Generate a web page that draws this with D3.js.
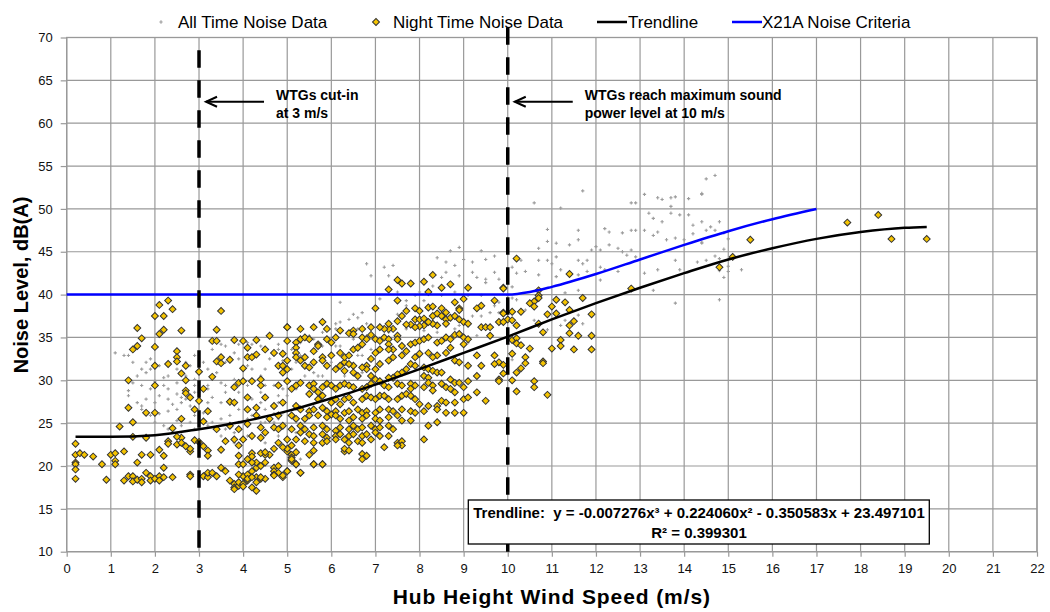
<!doctype html><html><head><meta charset="utf-8"></head><body style="margin:0;background:#fff"><script src='https://d3js.org/d3.v7.min.js'></script>
<script>
// Dimensions
const xSize = 1050, ySize = 612;
const plotL = 66.7, plotR = 1037, plotT = 37.5, plotB = 551.7;
const font = "'Liberation Sans', Arial, sans-serif";

// Ticks
const xTicks = [0,1,2,3,4,5,6,7,8,9,10,11,12,13,14,15,16,17,18,19,20,21,22];
const yTicks = [10,15,20,25,30,35,40,45,50,55,60,65,70];
const legendNames = ["All Time Noise Data", "Night Time Noise Data", "Trendline", "X21A Noise Criteria"];

// All time noise data (wind speed m/s, dB(A))
const allTime = [
 [1.1,33.2],[1.3,32.9],[1.4,32.9],[1.8,30.9],[1.9,31.3],[1.7,29.4],[1.9,29.0],[2.1,31.7],[2.2,29.4],[2.3,29.0],
 [2.1,28.2],[2.3,27.8],[2.0,27.4],[1.8,27.8],[1.7,26.6],[2.1,26.1],[2.3,26.4],[2.5,26.6],[2.6,27.4],[2.7,27.8],
 [2.8,27.0],[2.9,28.6],[2.9,30.1],[2.8,31.7],[2.7,32.1],[2.5,29.7],[2.3,30.5],[2.2,30.3],[2.0,29.9],[3.2,27.4],
 [3.3,28.0],[3.5,27.4],[3.6,28.6],[3.2,29.4],[3.4,30.9],[3.6,32.1],[3.6,34.0],[3.8,33.2],[3.9,32.5],[4.1,31.7],
 [4.2,31.3],[4.4,30.5],[4.5,29.4],[4.5,31.3],[4.6,32.5],[4.7,32.9],[4.4,34.0],[4.2,34.2],[4.1,34.4],[3.9,34.2],
 [4.5,33.6],[4.8,34.2],[4.8,33.6],[4.9,32.3],[4.1,28.2],[4.2,27.8],[4.4,27.4],[4.5,26.6],[4.7,26.1],[3.9,26.6],
 [3.7,25.9],[3.5,25.5],[3.3,25.1],[3.2,24.7],[3.0,24.3],[2.9,24.3],[2.8,25.1],[2.6,24.7],[2.5,25.3],[2.3,24.3],
 [2.2,24.7],[3.6,24.3],[3.8,23.9],[3.9,25.1],[4.1,25.5],[4.2,25.9],[4.4,25.1],[4.5,25.1],[4.7,25.1],[4.8,25.5],
 [4.9,26.2],[2.9,25.9],[3.1,26.2],[2.6,28.0],[2.5,28.4],[2.4,27.2],[2.0,25.1],[1.9,25.9],[1.7,27.0],[1.6,27.4],
 [1.4,28.2],[1.4,28.8],[1.5,29.7],[1.6,30.5],[1.7,31.3],[1.8,32.1],[1.9,32.5],[1.5,32.1],[2.5,31.3],[2.7,30.5],
 [2.9,29.4],[3.0,28.6],[3.2,29.0],[3.5,29.7],[3.8,30.1],[3.6,29.4],[3.3,30.5],[3.2,31.3],[3.1,32.1],[2.9,32.9],
 [3.3,33.6],[3.5,34.2],[4.1,29.4],[3.9,28.6],[3.8,29.0],[4.4,28.6],[4.7,29.4],[4.8,28.2],[4.8,27.4],[4.9,29.0],
 [3.8,22.7],[4.1,23.5],[4.5,22.7],[4.8,23.5],[3.5,23.5],
 [6.8,43.6],[6.9,42.2],[7.2,43.2],[7.3,42.2],[7.4,43.4],[8.4,44.3],[8.6,43.8],[8.7,45.1],[8.8,43.4],[8.9,45.5],
 [9.0,44.1],[9.2,43.8],[9.2,42.6],[9.3,42.0],[9.4,45.1],[9.5,44.1],[9.5,41.8],[9.7,44.5],[9.7,42.6],[9.8,41.8],
 [9.5,41.4],[8.9,42.2],[8.6,42.6],[8.5,42.0],[8.3,41.0],[8.0,40.3],[7.9,39.9],[7.7,39.3],[7.5,40.3],[7.1,39.5],
 [7.0,38.7],[6.7,37.9],[6.6,37.3],[6.5,37.7],[6.2,39.1],[6.2,36.8],[6.1,36.0],[5.8,35.6],[5.5,35.2],[5.3,34.4],
 [5.1,33.6],[5.2,32.1],[5.4,30.5],[5.2,29.0],[5.0,28.2],[5.6,30.9],[6.0,32.1],[6.2,34.0],[6.5,34.8],[6.8,35.2],
 [7.1,36.4],[7.5,37.7],[7.7,38.7],[8.1,39.3],[8.5,39.9],[8.8,40.3],[9.1,39.9],[9.4,39.9],[9.7,38.7],[9.8,39.1],
 [10.0,39.9],[9.8,37.9],[9.2,37.5],[8.9,36.4],[9.4,37.5],[9.6,37.9],[9.3,35.2],[9.1,34.4],[5.6,29.7],[5.8,30.5],
 [5.5,28.6],[5.3,20.8],[5.2,23.9],[5.2,26.6],[6.6,32.9],[6.9,33.6],[6.1,36.6],[6.4,37.1],[6.6,36.0],[6.8,36.6],
 [5.6,34.8],[5.8,34.0],[6.1,34.0],[5.3,32.9],[5.1,31.3],[5.7,30.5],[6.3,30.5],[6.7,32.9],[7.3,35.6],[7.7,36.0],
 [8.1,35.8],[8.4,35.6],[8.8,36.0],[9.1,36.4],[6.7,30.9],[5.9,25.9],[5.6,24.3],
 [11.7,52.1],[10.6,50.7],[11.2,50.1],[12.8,50.7],[12.9,50.7],[13.1,51.7],[13.4,51.3],[13.5,51.1],[13.7,51.3],[13.8,51.4],
 [13.7,50.3],[14.1,51.2],[14.4,51.7],[14.5,53.5],[14.7,53.9],[13.2,49.5],[13.3,48.9],[13.5,48.5],[13.7,49.5],[13.9,49.3],
 [14.1,49.3],[14.2,48.1],[14.4,48.5],[14.6,47.9],[14.8,48.5],[10.9,47.6],[11.6,47.5],[12.2,47.7],[12.3,47.3],[12.6,47.2],
 [12.8,47.5],[12.9,47.5],[13.1,47.5],[13.3,46.9],[13.4,47.3],[13.6,46.4],[13.8,46.6],[14.2,47.1],[14.0,46.4],[14.4,46.0],
 [14.7,47.5],[14.9,45.3],[10.7,45.4],[10.9,46.2],[11.1,46.0],[11.4,45.8],[11.6,46.4],[11.9,45.2],[12.0,45.6],[12.1,45.2],
 [12.3,45.8],[12.5,45.4],[12.6,45.0],[12.7,44.6],[12.8,45.2],[12.9,44.4],[10.7,44.0],[10.9,44.0],[11.0,43.6],[11.1,44.4],
 [11.6,44.0],[11.7,43.6],[11.8,44.0],[12.1,43.2],[12.2,42.9],[12.5,42.7],[10.3,44.0],[10.1,43.2],[10.4,42.7],[10.7,42.3],
 [11.1,42.1],[11.2,42.9],[11.6,42.3],[11.8,42.7],[12.1,41.7],[11.6,40.5],[11.3,40.2],[13.1,42.5],[13.4,42.9],[13.8,44.0],
 [13.9,42.9],[14.3,43.8],[14.5,44.0],[14.8,44.2],[15.0,42.7],[13.3,40.5],[13.8,39.0],[14.8,39.4],[10.2,42.5],[10.1,40.9],
 [10.1,39.6],[10.2,39.4],[10.4,38.2],[10.6,37.0],[11.3,37.0],[11.6,37.6],[11.2,36.4],[10.9,35.9],[11.7,36.6],[10.1,32.4],
 [14.4,51.8],[14.5,47.5],[14.9,47.2],[15.0,46.5],[14.4,46.1],[14.7,44.5],[15.0,43.3],[14.8,42.8],[14.9,42.0],[15.3,42.9]
];

// Night time noise data (wind speed m/s, dB(A))
const nightTime = [
 [0.2,22.6],[0.2,21.3],[0.3,21.5],[0.4,21.3],[0.2,20.4],[0.2,20.2],[0.2,19.6],[0.2,18.5],[0.6,21.1],[0.8,20.2],
 [0.9,18.4],[1.0,21.3],[1.1,21.5],[1.1,20.6],[1.1,20.2],[1.3,21.7],[1.3,18.3],[1.4,18.8],[1.5,18.8],[1.5,18.2],
 [1.6,18.4],[1.6,20.4],[1.7,21.3],[1.7,18.5],[1.7,18.1],[1.8,19.2],[1.9,21.3],[1.9,18.8],[1.9,18.3],[2.0,18.5],
 [2.1,18.8],[2.1,18.3],[2.2,18.7],[2.2,19.8],[2.1,21.9],[2.2,21.2],[2.4,18.7],[2.8,19.0],[2.8,18.8],[2.8,21.7],
 [1.2,24.6],[1.4,30.0],[1.4,26.8],[1.5,25.1],[1.5,23.4],[1.5,33.6],[1.6,34.0],[1.7,34.9],[1.6,36.1],[1.8,26.2],
 [1.8,23.3],[2.0,37.5],[2.1,38.8],[2.2,37.5],[2.1,35.4],[2.2,35.9],[2.3,39.3],[2.4,38.3],[2.0,33.9],[2.0,31.7],
 [2.0,29.4],[2.0,26.2],[2.3,22.9],[2.3,22.6],[2.4,24.4],[2.6,35.8],[2.5,33.4],[2.5,32.7],[2.5,32.2],[2.3,31.9],
 [2.6,30.8],[2.7,31.7],[2.7,30.0],[2.7,28.8],[2.7,28.5],[2.6,25.5],[2.6,23.3],[2.5,23.4],[2.5,22.5],[2.7,22.3],
 [2.6,22.7],[2.8,22.0],[2.9,26.6],[2.9,23.0],[3.0,22.8],[2.8,28.0],
 [3.0,31.0],[3.0,27.6],[3.1,29.0],[3.2,26.4],[3.1,25.2],[3.2,21.8],[3.2,21.2],[3.1,22.3],[3.1,18.8],[3.2,18.7],
 [3.2,19.2],[3.3,19.2],[3.4,18.8],[3.5,19.8],[3.6,19.4],[3.7,18.3],[3.5,38.1],[3.4,35.9],[3.3,34.6],[3.4,34.6],
 [3.4,32.2],[3.5,32.7],[3.5,32.0],[3.7,32.4],[3.3,30.4],[3.4,24.3],[3.5,21.9],[3.6,22.9],[3.7,24.7],[3.7,27.5],
 [3.8,27.4],[3.8,29.2],[3.9,29.7],[4.0,29.9],[4.0,31.4],[3.8,34.7],[4.0,34.6],[4.1,33.8],[4.1,32.7],[4.2,32.7],
 [4.3,33.0],[4.3,34.7],[4.1,28.0],[4.3,26.8],[4.1,26.6],[4.2,29.9],[4.4,29.4],[3.8,23.1],[3.9,22.4],[4.0,23.1],
 [3.9,21.2],[3.8,17.9],[3.8,17.5],[3.8,17.3],[3.9,17.7],[3.9,18.1],[4.0,17.9],[4.1,18.3],[4.0,18.8],[4.1,19.0],
 [4.2,19.4],[4.3,19.8],[4.3,20.4],[4.4,20.0],[4.3,18.7],[4.3,18.1],[4.4,18.5],[4.5,18.5],[4.2,17.5],[4.3,17.1],
 [3.9,19.0],[3.9,20.2],[4.0,20.2],[4.6,21.3],[4.5,21.3],[4.4,21.5],[4.2,21.5],[4.2,21.1],[4.7,19.8],[4.7,19.4],
 [4.8,20.0],[4.8,19.2],[4.7,19.0],[4.9,18.7],[5.0,19.4],[5.0,21.7],[5.1,21.3],[5.1,21.0],[5.1,20.6],[5.2,20.2],
 [5.3,19.2],[5.5,21.3],[5.6,20.2],[5.8,20.2],[6.3,21.7],[4.1,20.8],[4.2,20.4],[4.5,20.4],[4.5,21.6],[4.7,22.0],
 [4.8,22.7],[5.0,22.0],[4.4,23.3],[4.5,23.9],[4.7,24.5],[4.8,24.3],[4.6,25.5],[4.8,25.9],[4.9,27.4],[4.8,29.4],
 [4.9,30.9],[4.8,31.7],[4.7,33.2],[4.9,33.1],[5.0,34.6],[4.6,35.2],[5.0,36.2],[4.5,33.6],[4.4,30.1],[4.5,28.0],
 [4.7,27.0],[4.3,25.9],[4.1,24.9],[3.9,24.3],[4.4,24.5],[4.2,23.5],[5.0,31.3],[4.7,18.9],[4.0,17.6],[4.1,18.5],
 [4.2,18.7],[4.4,18.7],
 [7.5,41.7],[7.6,41.3],[7.8,41.3],[8.1,41.5],[8.3,42.3],[8.5,40.8],[8.7,41.2],[8.2,40.3],[7.3,40.6],[7.5,39.3],
 [7.0,38.4],[9.1,40.8],[9.9,40.8],[9.0,39.5],[9.7,39.3],[9.4,38.7],[9.3,38.4],[7.9,38.4],[8.0,38.1],[8.2,38.5],
 [8.3,38.6],[8.5,38.4],[8.6,37.9],[8.8,39.1],[8.9,38.4],[8.9,38.2],[7.7,38.1],[7.6,37.5],[7.9,37.1],[8.0,37.1],
 [8.1,37.2],[8.3,37.5],[8.4,37.8],[8.5,37.5],[8.6,37.1],[8.7,37.3],[8.8,37.5],[8.9,37.1],[9.0,36.8],[9.1,36.6],
 [8.6,36.6],[8.4,36.4],[8.3,36.6],[8.2,36.8],[8.1,36.4],[8.0,36.3],[7.9,36.2],[7.8,36.5],[7.7,36.5],[7.5,36.9],
 [7.4,36.0],[7.3,36.0],[7.2,36.0],[7.3,36.6],[7.1,36.2],[6.9,36.2],[6.7,36.0],[6.5,35.8],[6.4,35.5],[6.5,35.4],
 [6.2,35.8],[6.1,35.0],[5.9,36.0],[5.8,36.8],[5.6,36.2],[5.3,36.0],[5.0,36.2],[9.4,36.2],[9.5,36.2],[9.6,36.2],
 [9.8,36.8],[10.0,37.1],[9.6,35.2],[9.9,37.9],
 [5.2,34.4],[5.2,33.8],[5.2,33.2],[5.2,32.7],[5.0,32.3],[4.9,31.7],[5.3,34.8],[5.4,35.0],[5.5,34.8],[5.7,34.2],
 [5.7,34.0],[5.6,33.4],[5.4,32.7],[5.3,32.3],[5.4,31.7],[5.5,31.5],[5.6,32.1],[5.8,32.7],[5.8,32.3],[5.9,34.8],
 [6.0,34.4],[6.0,32.9],[5.9,31.7],[6.1,31.3],[6.2,31.7],[6.3,32.1],[6.3,32.7],[6.2,33.2],[6.4,32.9],[6.5,33.6],
 [6.6,33.8],[6.7,34.2],[6.7,35.0],[6.8,34.8],[6.9,35.3],[7.0,34.8],[7.1,34.6],[7.2,35.0],[7.3,34.8],[7.3,34.2],
 [7.5,35.2],[7.5,34.8],[7.6,34.0],[7.4,33.6],[7.3,33.6],[7.1,33.6],[7.0,33.2],[6.9,32.5],[6.8,31.7],[6.8,31.3],
 [6.7,31.5],[6.5,31.7],[6.4,31.9],[6.3,31.1],[6.5,30.9],[6.6,30.5],[6.9,30.5],[7.0,31.3],[7.1,31.9],[7.3,32.3],
 [7.4,32.7],[7.6,32.9],[7.7,33.4],[7.8,34.2],[7.9,34.4],[8.0,34.6],[8.1,34.8],[8.2,35.0],[8.4,34.4],[8.5,34.6],
 [8.6,35.0],[8.7,34.8],[8.8,35.3],[8.9,35.4],[9.0,35.0],[9.1,34.8],[9.0,34.2],[8.7,33.8],[8.6,33.2],[8.4,32.9],
 [8.3,32.7],[8.2,33.2],[8.0,33.1],[7.9,32.7],[7.8,31.9],[7.9,31.7],[8.1,31.5],[8.2,31.3],[8.3,31.1],[8.4,30.9],
 [8.5,30.9],[8.1,30.5],[8.2,30.3],[7.7,31.3],[7.6,30.9],[7.5,30.7],[7.4,30.3],[7.3,30.3],[8.8,32.3],[8.9,32.1],
 [9.1,31.7],[9.3,32.9],[9.7,32.9],[9.8,32.1],[9.4,31.7],[9.7,31.9],[9.8,30.1],[9.1,29.9],[8.7,30.1],[8.8,29.7],
 [8.9,29.7],[9.3,30.5],
 [5.0,29.9],[5.1,29.0],[5.2,29.4],[5.3,29.7],[5.5,29.4],[5.6,29.6],[5.6,29.0],[5.7,28.6],[5.8,29.2],[5.9,29.6],
 [6.0,29.4],[6.1,29.0],[6.2,29.4],[6.3,29.6],[6.4,29.4],[6.5,29.2],[6.7,29.0],[6.8,29.2],[6.9,29.6],[7.0,30.1],
 [7.1,29.9],[7.2,29.4],[7.3,29.2],[7.5,29.6],[7.6,29.4],[7.8,29.6],[7.8,29.0],[7.9,29.4],[8.1,29.2],[8.2,29.7],
 [8.3,29.4],[8.3,28.8],[8.5,29.6],[8.6,29.2],[8.7,29.0],[8.8,28.6],[9.0,29.2],[5.5,28.4],[5.7,27.8],[5.8,28.2],
 [6.0,27.4],[6.1,27.8],[6.2,27.2],[6.3,27.8],[6.4,28.0],[6.5,27.4],[6.7,27.8],[6.8,28.2],[6.9,28.0],[7.0,27.8],
 [7.1,28.2],[7.2,28.2],[7.3,27.8],[7.5,27.8],[7.6,28.2],[7.7,28.4],[7.8,28.2],[7.9,27.8],[8.0,27.2],[8.2,27.0],
 [8.4,27.0],[8.5,27.6],[8.6,27.4],[8.8,27.4],[9.0,27.8],[9.1,28.0],[9.5,27.6],[9.3,28.6],[5.2,27.0],[5.3,26.6],
 [5.5,26.4],[5.6,26.6],[5.8,26.8],[5.9,26.4],[6.0,26.0],[6.1,26.4],[6.3,26.2],[6.4,26.4],[6.6,26.6],[6.7,26.2],
 [6.8,26.4],[7.0,26.2],[7.1,26.6],[7.3,26.6],[7.4,26.4],[7.6,26.6],[7.8,26.4],[7.9,26.2],[8.1,26.4],[8.6,26.2],
 [8.8,26.2],[9.0,26.2],[8.4,26.6],[5.1,25.9],[5.2,25.5],[5.4,25.5],[5.5,25.9],[5.7,25.9],[5.9,25.7],[6.1,25.9],
 [6.2,25.5],[6.4,25.3],[6.5,25.7],[6.7,25.5],[6.8,25.9],[7.0,25.5],[7.1,25.3],[7.3,25.7],[7.5,25.9],[7.6,25.3],
 [7.8,25.3],[8.2,24.7],[8.4,25.1],
 [4.9,24.7],[5.1,24.3],[5.3,24.7],[5.4,24.3],[5.6,24.5],[5.8,24.7],[5.9,24.3],[6.1,24.1],[6.2,24.5],[6.4,24.3],
 [6.5,24.7],[6.6,24.3],[6.7,24.5],[6.9,24.7],[7.0,24.3],[7.1,24.5],[7.3,24.7],[7.4,24.3],[5.3,23.9],[5.5,23.7],
 [5.6,23.5],[5.8,23.7],[5.9,23.3],[6.1,23.5],[6.2,23.7],[6.4,23.5],[6.5,23.7],[6.7,23.5],[6.8,23.7],[7.0,23.9],
 [7.1,23.5],[7.3,23.5],[7.5,22.7],[7.6,22.9],[7.6,22.4],[7.5,22.4],[8.1,23.1],[5.0,23.1],[5.2,23.1],[5.4,22.9],
 [5.6,22.7],[5.8,22.7],[5.9,22.9],[6.1,23.1],[6.3,23.1],[6.4,22.7],[6.6,22.9],[6.7,22.7],[6.9,23.1],[4.9,22.2],
 [5.1,22.4],[5.2,21.6],[5.6,21.8],[6.3,22.0],[6.4,21.8],[7.2,22.2],[6.7,21.4],[6.7,20.8],[6.8,21.2],[5.1,20.8],
 [5.2,20.2],[5.6,20.2],[5.8,20.2],[5.3,19.2],[5.0,19.4],[4.9,18.9],
 [10.2,44.2],[9.9,40.7],[11.4,42.4],[10.7,40.5],[10.7,39.9],[10.6,39.2],[10.5,39.0],[10.7,39.6],[10.6,38.6],[11.0,38.6],
 [11.1,39.4],[11.3,39.1],[11.7,39.6],[12.8,40.7],[14.8,43.2],[9.9,37.8],[10.1,38.0],[10.3,38.0],[10.9,37.7],[11.1,37.8],
 [11.4,38.2],[11.9,37.7],[11.5,36.9],[11.4,36.4],[11.4,35.5],[11.6,35.2],[11.9,35.2],[10.8,35.6],[10.7,36.6],[10.1,37.0],
 [10.2,36.4],[9.9,36.8],[10.1,34.7],[10.2,34.9],[10.2,34.3],[10.3,34.1],[10.5,33.7],[11.2,34.7],[11.2,34.0],[11.0,33.7],
 [11.5,33.6],[11.9,33.6],[10.1,33.1],[9.9,31.8],[10.4,32.7],[10.4,32.0],[10.3,31.4],[10.2,30.9],[10.8,32.2],[10.8,32.0],
 [10.1,30.0],[10.6,29.9],[10.6,29.2],[10.2,28.7],[10.9,28.3],[9.8,29.9],[9.9,30.8],
 [15.1,44.4],[15.5,46.4],[17.7,48.4],[18.4,49.3],[18.7,46.5],[19.5,46.5]
];

// Trendline and criteria
const trendline = [[0.2,23.4],[1,23.4],[2,23.6],[3,24.3],[4,25.2],[5,26.4],[6,27.9],[7,29.5],[8,31.3],[9,33.2],
  [10,35.1],[11,37.1],[12,39.0],[13,40.8],[14,42.5],[15,44.1],[16,45.4],[17,46.5],[18,47.3],[19,47.8],[19.5,47.9]];
const criteria = [[0,40],[10,40],[10.5,40.3],[11,40.9],[12,42.4],[13,44.1],[14,45.8],[15,47.4],[16,48.8],[17,50]];

// Wind speed markers
const markerSpeeds = [3, 10];
const markerTops = [68.5, 71.2];
const markerNotes = [["WTGs cut-in", "at 3 m/s"], ["WTGs reach maximum sound", "power level at 10 m/s"]];
const trendText = ["Trendline:  y = -0.007276x³ + 0.224060x² - 0.350583x + 23.497101", "R² = 0.399301"];

const svg = d3.select("body").append("svg")
  .attr("width", xSize).attr("height", ySize)
  .style("font-family", font);

const x = d3.scaleLinear().domain([0, 22]).range([plotL, plotR]);
const y = d3.scaleLinear().domain([10, 70]).range([plotB, plotT]);

// grid
svg.append("g").selectAll("line").data(xTicks).join("line")
  .attr("x1", d => x(d)).attr("x2", d => x(d)).attr("y1", plotT).attr("y2", plotB)
  .attr("stroke", "#999").attr("stroke-width", 1.2);
svg.append("g").selectAll("line").data(yTicks).join("line")
  .attr("x1", plotL).attr("x2", plotR).attr("y1", d => y(d)).attr("y2", d => y(d))
  .attr("stroke", "#999").attr("stroke-width", 1.2);
svg.append("rect").attr("x", plotL).attr("y", plotT).attr("width", plotR - plotL).attr("height", plotB - plotT)
  .attr("fill", "none").attr("stroke", "#999").attr("stroke-width", 1.3);

// axes
const xAxis = svg.append("g").attr("transform", `translate(0,${plotB})`)
  .call(d3.axisBottom(x).tickValues(xTicks).tickSize(5).tickPadding(7));
const yAxis = svg.append("g").attr("transform", `translate(${plotL},0)`)
  .call(d3.axisLeft(y).tickValues(yTicks).tickSize(6).tickPadding(8));
[xAxis, yAxis].forEach(a => {
  a.select(".domain").remove();
  a.selectAll("line").attr("stroke", "#999").attr("stroke-width", 1.2);
  a.selectAll("text").attr("fill", "#111").style("font-size", "13px").style("font-family", font);
});

// all time points
const cross = d3.symbol(d3.symbolCross, 6);
svg.append("g").selectAll("path").data(allTime).join("path")
  .attr("d", cross).attr("transform", d => `translate(${x(d[0])},${y(d[1])})`)
  .attr("fill", "#9c9c9c");

// night time points
const diamond = d3.symbol(d3.symbolSquare, 24);
svg.append("g").selectAll("path").data(nightTime).join("path")
  .attr("d", diamond).attr("transform", d => `translate(${x(d[0])},${y(d[1])}) rotate(45)`)
  .attr("fill", "#f5c400").attr("stroke", "#333").attr("stroke-width", 1);

// trendline and criteria
const line = d3.line().x(d => x(d[0])).y(d => y(d[1])).curve(d3.curveMonotoneX);
svg.append("path").datum(trendline).attr("d", line)
  .attr("fill", "none").attr("stroke", "#000").attr("stroke-width", 2.5);
svg.append("path").datum(criteria).attr("d", line)
  .attr("fill", "none").attr("stroke", "#0000ff").attr("stroke-width", 2.5);

// legend
const lg = svg.append("g").style("font-size", "17px");
lg.append("path").attr("d", cross).attr("transform", "translate(161,22)").attr("fill", "#9c9c9c");
lg.append("text").attr("x", 178).attr("y", 28).text(legendNames[0]);
lg.append("path").attr("d", diamond).attr("transform", "translate(376,22) rotate(45)")
  .attr("fill", "#f5c400").attr("stroke", "#333").attr("stroke-width", 1);
lg.append("text").attr("x", 393).attr("y", 28).text(legendNames[1]);
lg.append("line").attr("x1", 597).attr("x2", 627).attr("y1", 22).attr("y2", 22).attr("stroke", "#000").attr("stroke-width", 2.5);
lg.append("text").attr("x", 628).attr("y", 28).text(legendNames[2]);
lg.append("line").attr("x1", 732).attr("x2", 762).attr("y1", 22).attr("y2", 22).attr("stroke", "#0000ff").attr("stroke-width", 2.5);
lg.append("text").attr("x", 762).attr("y", 28).text(legendNames[3]);

// dashed wind speed markers
markerSpeeds.forEach((s, i) => {
  svg.append("line").attr("x1", x(s)).attr("x2", x(s)).attr("y1", y(markerTops[i])).attr("y2", y(10))
    .attr("stroke", "#000").attr("stroke-width", 3.5).attr("stroke-dasharray", "17.5,12.5");
  const ay = y(62.5), ax = x(s) + 7;
  svg.append("line").attr("x1", ax).attr("x2", ax + 58).attr("y1", ay).attr("y2", ay)
    .attr("stroke", "#000").attr("stroke-width", 2);
  svg.append("path").attr("d", `M${ax + 11},${ay - 5} L${ax},${ay} L${ax + 11},${ay + 5}`)
    .attr("fill", "none").attr("stroke", "#000").attr("stroke-width", 2);
  const t = svg.append("text").attr("x", ax + 70).attr("y", ay - 2)
    .style("font-size", "14px").style("font-weight", "bold");
  markerNotes[i].forEach((l, k) => t.append("tspan").attr("x", ax + 70).attr("dy", k ? 18 : 0).text(l));
});

// trendline box
svg.append("rect").attr("x", 468.3).attr("y", 500).attr("width", 461).attr("height", 44)
  .attr("fill", "#fff").attr("stroke", "#000").attr("stroke-width", 1.3);
trendText.forEach((t, i) => {
  svg.append("text").attr("x", 699).attr("y", 518 + i * 20).attr("text-anchor", "middle")
    .style("font-size", "15px").style("font-weight", "bold").style("white-space", "pre").text(t);
});

// axis titles
svg.append("text").attr("x", (plotL + plotR) / 2).attr("y", 604).attr("text-anchor", "middle")
  .style("font-size", "21px").style("font-weight", "bold").style("letter-spacing", "0.9px")
  .text("Hub Height Wind Speed (m/s)");
svg.append("text").attr("transform", "translate(28,285) rotate(-90)").attr("text-anchor", "middle")
  .style("font-size", "20px").style("font-weight", "bold")
  .text("Noise Level, dB(A)");
</script></body></html>
